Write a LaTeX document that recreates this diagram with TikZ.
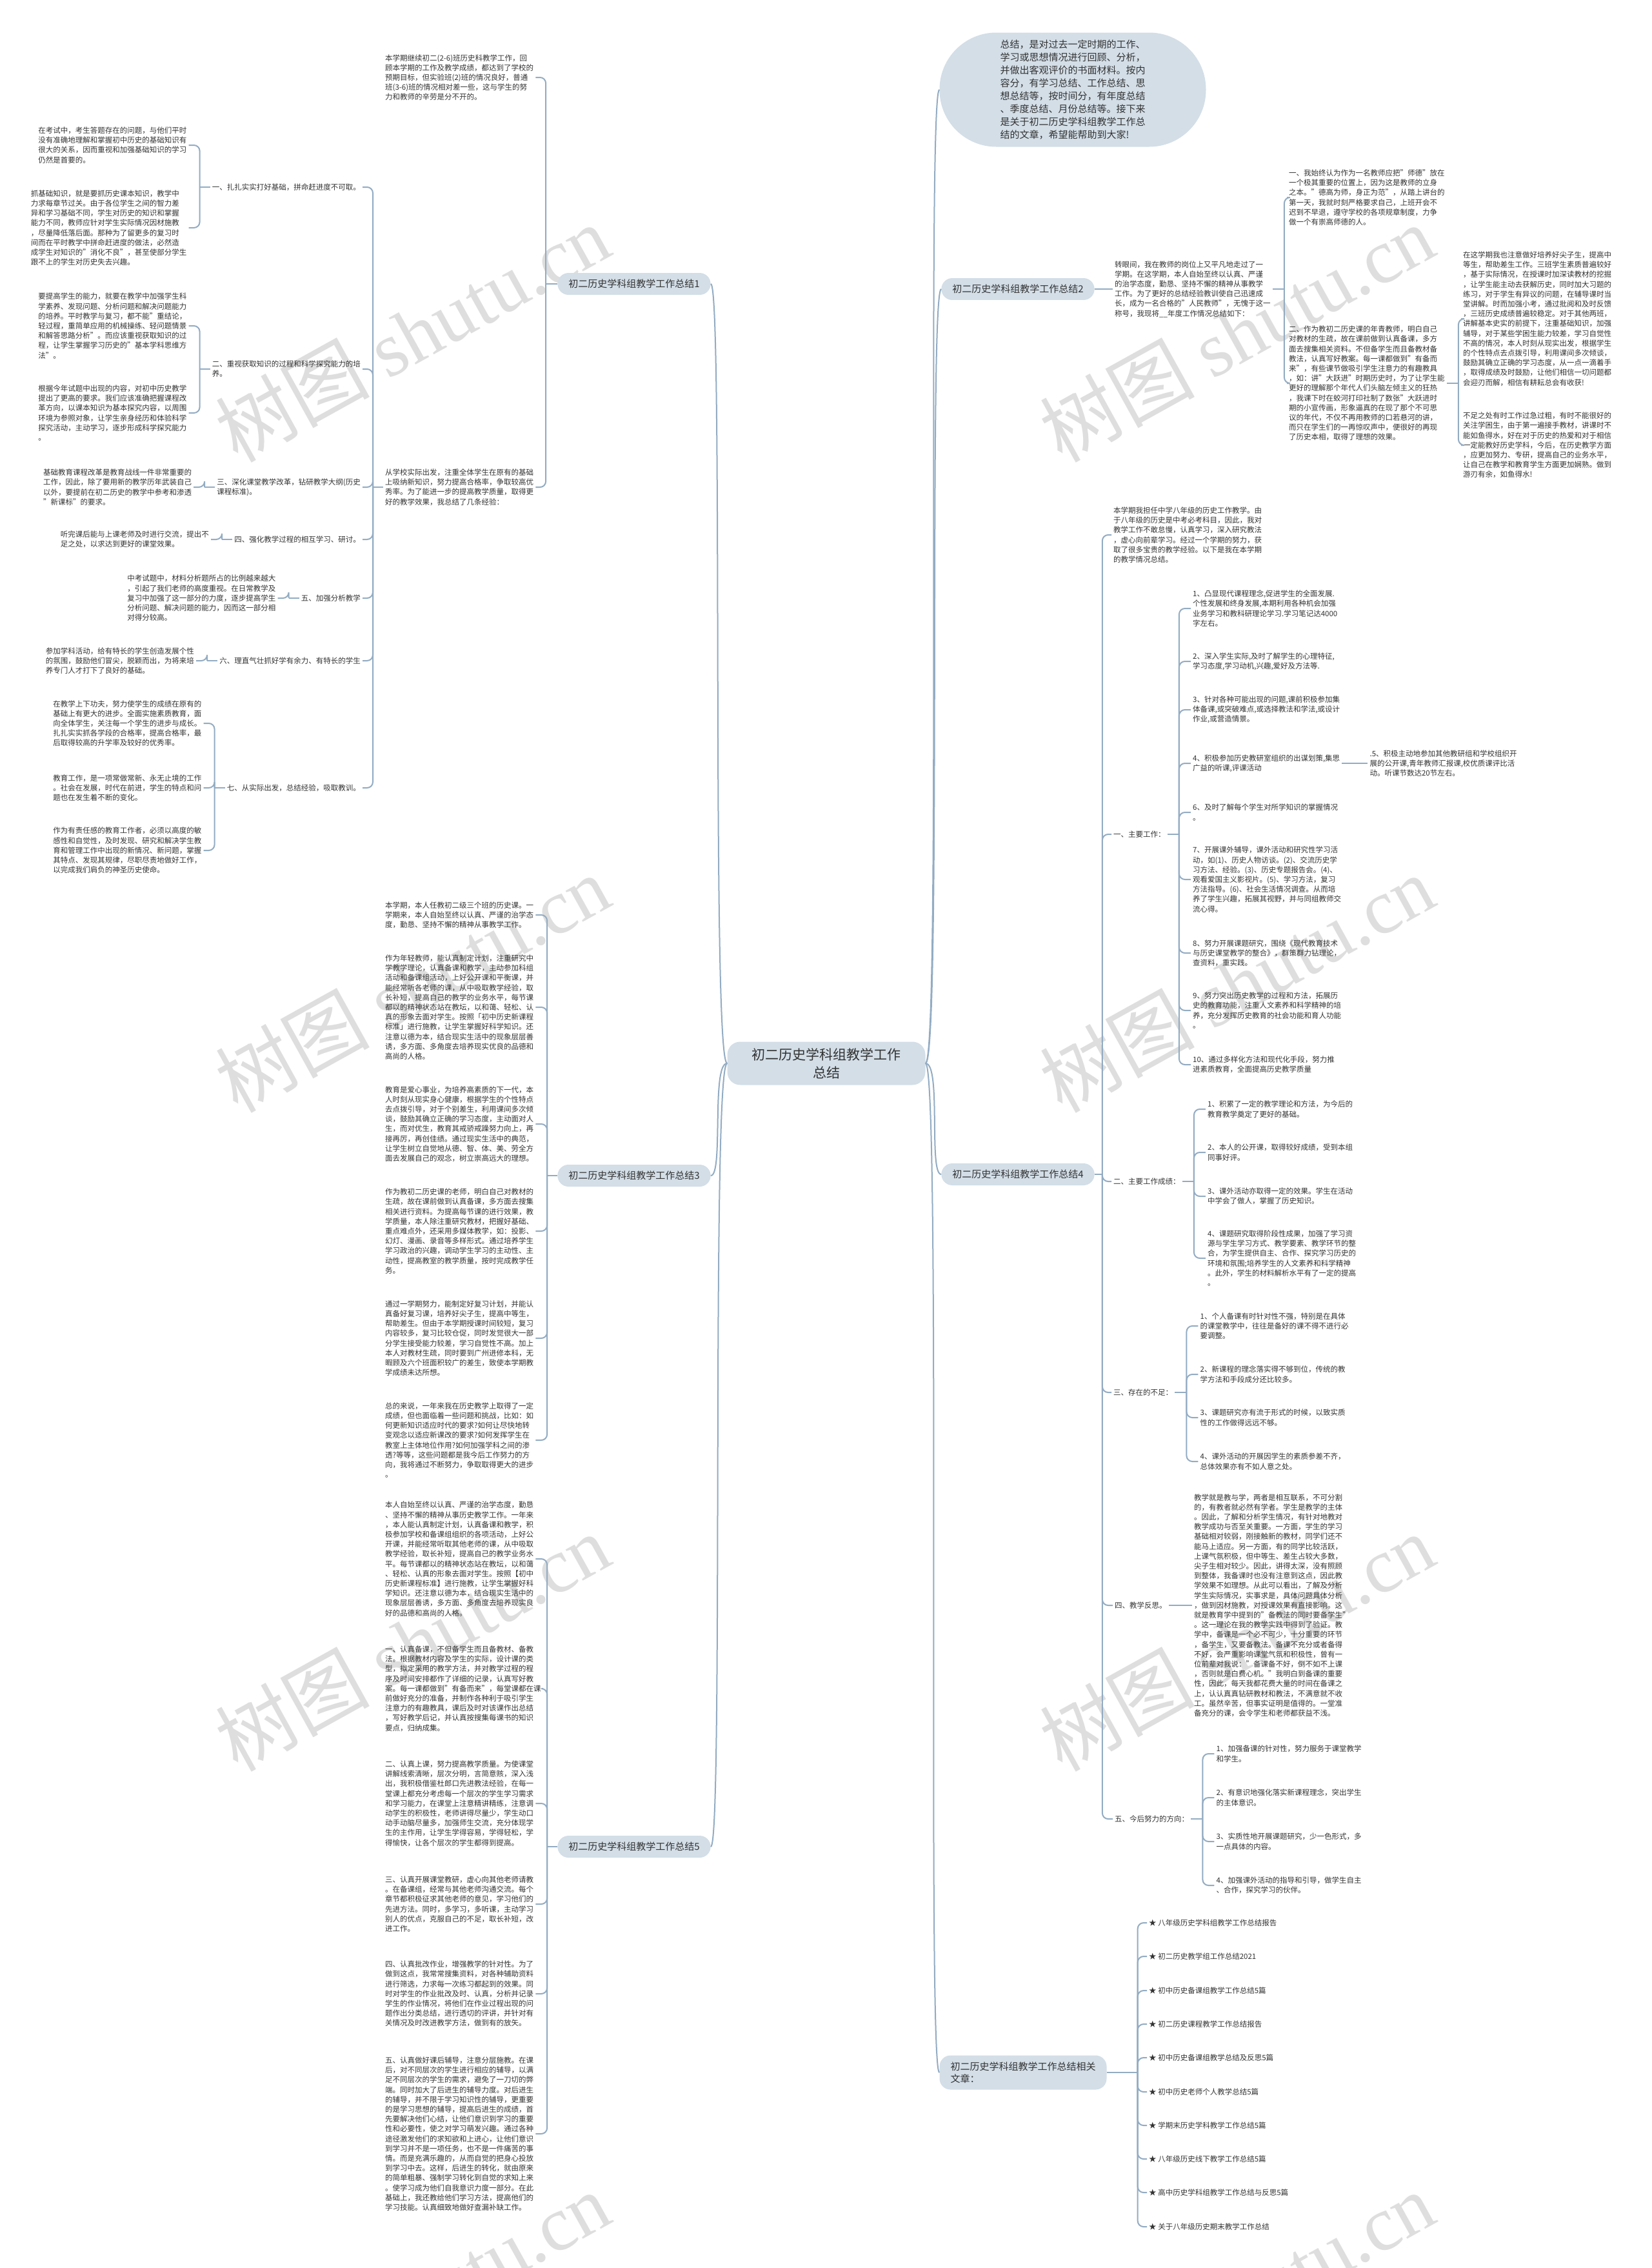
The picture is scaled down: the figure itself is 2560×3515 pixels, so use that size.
\documentclass[tikz,border=0pt]{standalone}
\usepackage{fontspec}
\setmainfont{Noto Sans CJK SC}
\newfontfamily\wmlatin{Liberation Serif}
\usetikzlibrary{calc}
\definecolor{lc}{HTML}{93ACC3}
\definecolor{nf}{HTML}{D3DEE7}
\definecolor{tc}{HTML}{333333}
\definecolor{wmc}{HTML}{DEDEDE}
\newcommand{\grpR}[3]{\draw[conn] (#1.east) -- ++(#2,0) coordinate (#1-j); \foreach \c in {#3} {\draw[br] (#1-j) |- (\c.west);}}
\newcommand{\grpL}[3]{\draw[conn] (#1.west) -- ++(-#2,0) coordinate (#1-j); \foreach \c in {#3} {\draw[br] (#1-j) |- (\c.east);}}
\begin{document}
\begin{tikzpicture}[x=1pt,y=-1pt,
 conn/.style={draw=lc,line width=2pt},
 br/.style={draw=lc,line width=2pt,rounded corners=9pt},
 leaf/.style={inner xsep=3pt,inner ysep=0pt,align=left,text=tc,font=\fontsize{11.5}{15.2}\selectfont},
 topic/.style={fill=nf,rounded corners=17pt,inner xsep=17pt,inner ysep=10pt,text=tc,font=\fontsize{15}{19}\selectfont},
 wm/.style={text=wmc,font=\fontsize{120}{120}\selectfont,rotate=29},
]
\fill[white] (0,0) rectangle (2560,3515);
\useasboundingbox (0,0) rectangle (2560,3515);
% watermarks
\foreach \wx in {639,1917} {\foreach \wy in {516,1524,2545,3565} {\node[wm] at (\wx,\wy) {树图 {\wmlatin shutu.cn}};}}

% central
\node[fill=nf,rounded corners=20pt,minimum width=307pt,minimum height=67pt,align=center,text=tc,font=\fontsize{21}{28}\selectfont] (c) at (1281,1648) {初二历史学科组教学工作\\总结};

% intro bubble
\node[fill=nf,rounded corners=88pt,minimum width=413pt,minimum height=177pt,align=left,text=tc,font=\fontsize{15}{20}\selectfont] (bub) at (1663,139) {总结，是对过去一定时期的工作、\\学习或思想情况进行回顾、分析，\\并做出客观评价的书面材料。按内\\容分，有学习总结、工作总结、思\\想总结等，按时间分，有年度总结\\、季度总结、月份总结等。接下来\\是关于初二历史学科组教学工作总\\结的文章，希望能帮助到大家!};

% level 1 topics
\node[topic] (n1) at (983,440) {初二历史学科组教学工作总结1};
\node[topic] (n3) at (983,1822) {初二历史学科组教学工作总结3};
\node[topic] (n5) at (983,2862) {初二历史学科组教学工作总结5};
\node[topic] (n2) at (1578,448) {初二历史学科组教学工作总结2};
\node[topic] (n4) at (1578,1820) {初二历史学科组教学工作总结4};
\node[topic,align=left] (nr) at (1586,3212) {初二历史学科组教学工作总结相关\\文章：};

% central connectors
\draw[conn] (c.east) .. controls +(25,0) and +(-20,0) .. (bub.west);
\draw[conn] (c.east) .. controls +(25,0) and +(-20,0) .. (n2.west);
\draw[conn] (c.east) .. controls +(25,0) and +(-20,0) .. (n4.west);
\draw[conn] (c.east) .. controls +(25,0) and +(-20,0) .. (nr.west);
\draw[conn] (c.west) .. controls +(-25,0) and +(20,0) .. (n1.east);
\draw[conn] (c.west) .. controls +(-25,0) and +(20,0) .. (n3.east);
\draw[conn] (c.west) .. controls +(-25,0) and +(20,0) .. (n5.east);

% ===== branch 1 =====
\node[leaf,anchor=west] (t1a) at (594,120) {本学期继续初二(2-6)班历史科教学工作，回\\顾本学期的工作及教学成绩，都达到了学校的\\预期目标，但实验班(2)班的情况良好，普通\\班(3-6)班的情况相对差一些，这与学生的努\\力和教师的辛劳是分不开的。};
\node[leaf,anchor=west] (t1b) at (594,755) {从学校实际出发，注重全体学生在原有的基础\\上吸纳新知识，努力提高合格率，争取较高优\\秀率。为了能进一步的提高教学质量，取得更\\好的教学效果，我总结了几条经验：};
\grpL{n1}{18}{t1a,t1b}

\node[leaf,anchor=east] (l1) at (562,290) {一、扎扎实实打好基础，拼命赶进度不可取。};
\node[leaf,anchor=east] (l2) at (562,572) {二、重视获取知识的过程和科学探究能力的培\\养。};
\node[leaf,anchor=east] (l3) at (562,755) {三、深化课堂教学改革，钻研教学大纲(历史\\课程标准)。};
\node[leaf,anchor=east] (l4) at (562,836) {四、强化教学过程的相互学习、研讨。};
\node[leaf,anchor=east] (l5) at (562,927) {五、加强分析教学};
\node[leaf,anchor=east] (l6) at (562,1024) {六、理直气壮抓好学有余力、有特长的学生};
\node[leaf,anchor=east] (l7) at (562,1221) {七、从实际出发，总结经验，吸取教训。};
\grpL{t1b}{16}{l1,l2,l3,l4,l5,l6,l7}

\node[leaf,anchor=east] (l1a) at ($(l1.west)+(-33,-65)$) {在考试中，考生答题存在的问题，与他们平时\\没有准确地理解和掌握初中历史的基础知识有\\很大的关系，因而重视和加强基础知识的学习\\仍然是首要的。};
\node[leaf,anchor=east] (l1b) at ($(l1.west)+(-33,63)$) {抓基础知识，就是要抓历史课本知识，教学中\\力求每章节过关。由于各位学生之间的智力差\\异和学习基础不同，学生对历史的知识和掌握\\能力不同，教师应针对学生实际情况因材施教\\，尽量降低落后面。那种为了留更多的复习时\\间而在平时教学中拼命赶进度的做法，必然造\\成学生对知识的"消化不良"，甚至使部分学生\\跟不上的学生对历史失去兴趣。};
\grpL{l1}{16}{l1a,l1b}
\node[leaf,anchor=east] (l2a) at ($(l2.west)+(-33,-67)$) {要提高学生的能力，就要在教学中加强学生科\\学素养、发现问题、分析问题和解决问题能力\\的培养。平时教学与复习，都不能"重结论，\\轻过程，重简单应用的机械操练、轻问题情景\\和解答思路分析"。而应该重视获取知识的过\\程，让学生掌握学习历史的"基本学科思维方\\法"。};
\node[leaf,anchor=east] (l2b) at ($(l2.west)+(-33,68)$) {根据今年试题中出现的内容，对初中历史教学\\提出了更高的要求。我们应该准确把握课程改\\革方向，以课本知识为基本探究内容，以周围\\环境为参照对象，让学生亲身经历和体验科学\\探究活动，主动学习，逐步形成科学探究能力\\。};
\grpL{l2}{16}{l2a,l2b}
\node[leaf,anchor=east] (l3a) at ($(l3.west)+(-33,0)$) {基础教育课程改革是教育战线一件非常重要的\\工作，因此，除了要用新的教学历年武装自己\\以外，要提前在初二历史的教学中参考和渗透\\"新课标"的要求。};
\grpL{l3}{16}{l3a}
\node[leaf,anchor=east] (l4a) at ($(l4.west)+(-33,0)$) {听完课后能与上课老师及时进行交流，提出不\\足之处，以求达到更好的课堂效果。};
\grpL{l4}{16}{l4a}
\node[leaf,anchor=east] (l5a) at ($(l5.west)+(-33,0)$) {中考试题中，材料分析题所占的比例越来越大\\，引起了我们老师的高度重视。在日常教学及\\复习中加强了这一部分的力度，逐步提高学生\\分析问题、解决问题的能力，因而这一部分相\\对得分较高。};
\grpL{l5}{16}{l5a}
\node[leaf,anchor=east] (l6a) at ($(l6.west)+(-33,0)$) {参加学科活动，给有特长的学生创造发展个性\\的氛围，鼓励他们冒尖，脱颖而出，为将来培\\养专门人才打下了良好的基础。};
\grpL{l6}{16}{l6a}
\node[leaf,anchor=east] (l7a) at ($(l7.west)+(-33,-100)$) {在教学上下功夫，努力使学生的成绩在原有的\\基础上有更大的进步。全面实施素质教育，面\\向全体学生，关注每一个学生的进步与成长。\\扎扎实实抓各学段的合格率，提高合格率，最\\后取得较高的升学率及较好的优秀率。};
\node[leaf,anchor=east] (l7b) at ($(l7.west)+(-33,0)$) {教育工作，是一项常做常新、永无止境的工作\\。社会在发展，时代在前进，学生的特点和问\\题也在发生着不断的变化。};
\node[leaf,anchor=east] (l7c) at ($(l7.west)+(-33,97)$) {作为有责任感的教育工作者，必须以高度的敏\\感性和自觉性，及时发现、研究和解决学生教\\育和管理工作中出现的新情况、新问题，掌握\\其特点、发现其规律，尽职尽责地做好工作，\\以完成我们肩负的神圣历史使命。};
\grpL{l7}{16}{l7a,l7b,l7c}

% ===== branch 3 =====
\node[leaf,anchor=west] (s3a) at (594,1418) {本学期，本人任教初二级三个班的历史课。一\\学期来，本人自始至终以认真、严谨的治学态\\度，勤恳、坚持不懈的精神从事教学工作。};
\node[leaf,anchor=west] (s3b) at (594,1561) {作为年轻教师，能认真制定计划，注重研究中\\学教学理论，认真备课和教学，主动参加科组\\活动和备课组活动，上好公开课和平衡课，并\\能经常听各老师的课，从中吸取教学经验，取\\长补短，提高自己的教学的业务水平，每节课\\都以的精神状态站在教坛，以和蔼、轻松、认\\真的形象去面对学生。按照「初中历史新课程\\标准」进行施教，让学生掌握好科学知识。还\\注意以德为本，结合现实生活中的现象层层善\\诱，多方面、多角度去培养现实优良的品德和\\高尚的人格。};
\node[leaf,anchor=west] (s3c) at (594,1742) {教育是爱心事业，为培养高素质的下一代，本\\人时刻从现实身心健康，根据学生的个性特点\\去点拨引导，对于个别差生，利用课间多次倾\\谈，鼓励其确立正确的学习态度，主动面对人\\生，而对优生，教育其戒骄戒躁努力向上，再\\接再厉，再创佳绩。通过现实生活中的典范，\\让学生树立自觉地从德、智、体、美、劳全方\\面去发展自己的观念，树立崇高远大的理想。};
\node[leaf,anchor=west] (s3d) at (594,1908) {作为教初二历史课的老师，明白自己对教材的\\生疏，故在课前做到认真备课，多方面去搜集\\相关进行资料。为提高每节课的进行效果，教\\学质量，本人除注重研究教材，把握好基础、\\重点难点外，还采用多媒体教学，如：投影、\\幻灯、漫画、录音等多样形式。通过培养学生\\学习政治的兴趣，调动学生学习的主动性、主\\动性，提高教室的教学质量，按时完成教学任\\务。};
\node[leaf,anchor=west] (s3e) at (594,2074) {通过一学期努力，能制定好复习计划，并能认\\真备好复习课，培养好尖子生，提高中等生，\\帮助差生。但由于本学期授课时间较短，复习\\内容较多，复习比较仓促，同时发觉很大一部\\分学生接受能力较差，学习自觉性不高。加上\\本人对教材生疏，同时要到广州进修本科，无\\暇顾及六个班面积较广的差生，致使本学期教\\学成绩未达所想。};
\node[leaf,anchor=west] (s3f) at (594,2232) {总的来说，一年来我在历史教学上取得了一定\\成绩，但也面临着一些问题和挑战，比如：如\\何更新知识适应时代的要求?如何让尽快地转\\变观念以适应新课改的要求?如何发挥学生在\\教室上主体地位作用?如何加强学科之间的渗\\透?等等，这些问题都是我今后工作努力的方\\向，我将通过不断努力，争取取得更大的进步\\。};
\grpL{n3}{16}{s3a,s3b,s3c,s3d,s3e,s3f}

% ===== branch 5 =====
\node[leaf,anchor=west] (s5a) at (594,2416) {本人自始至终以认真、严谨的治学态度，勤恳\\、坚持不懈的精神从事历史教学工作。一年来\\，本人能认真制定计划，认真备课和教学，积\\极参加学校和备课组组织的各项活动，上好公\\开课，并能经常听取其他老师的课，从中吸取\\教学经验，取长补短，提高自己的教学业务水\\平。每节课都以的精神状态站在教坛，以和蔼\\、轻松、认真的形象去面对学生。按照【初中\\历史新课程标准】进行施教，让学生掌握好科\\学知识。还注意以德为本，结合现实生活中的\\现象层层善诱，多方面、多角度去培养现实良\\好的品德和高尚的人格。};
\node[leaf,anchor=west] (s5b) at (594,2617) {一、认真备课，不但备学生而且备教材、备教\\法。根据教材内容及学生的实际，设计课的类\\型，拟定采用的教学方法，并对教学过程的程\\序及时间安排都作了详细的记录，认真写好教\\案。每一课都做到"有备而来"，每堂课都在课\\前做好充分的准备，并制作各种利于吸引学生\\注意力的有趣教具，课后及时对该课作出总结\\，写好教学后记，并认真按搜集每课书的知识\\要点，归纳成集。};
\node[leaf,anchor=west] (s5c) at (594,2795) {二、认真上课，努力提高教学质量。为使课堂\\讲解线索清晰，层次分明，言简意赅，深入浅\\出，我积极借鉴杜郎口先进教法经验，在每一\\堂课上都充分考虑每一个层次的学生学习需求\\和学习能力，在课堂上注意精讲精练，注意调\\动学生的积极性，老师讲得尽量少，学生动口\\动手动脑尽量多，加强师生交流，充分体现学\\生的主作用，让学生学得容易，学得轻松，学\\得愉快，让各个层次的学生都得到提高。};
\node[leaf,anchor=west] (s5d) at (594,2951) {三、认真开展课堂教研，虚心向其他老师请教\\。在备课组，经常与其他老师沟通交流。每个\\章节都积极征求其他老师的意见，学习他们的\\先进方法。同时，多学习，多听课，主动学习\\别人的优点，克服自己的不足，取长补短，改\\进工作。};
\node[leaf,anchor=west] (s5e) at (594,3090) {四、认真批改作业，增强教学的针对性。为了\\做到这点，我常常搜集资料，对各种辅助资料\\进行筛选，力求每一次练习都起到的效果。同\\时对学生的作业批改及时、认真，分析并记录\\学生的作业情况，将他们在作业过程出现的问\\题作出分类总结，进行透切的评讲，并针对有\\关情况及时改进教学方法，做到有的放矢。};
\node[leaf,anchor=west] (s5f) at (594,3307) {五、认真做好课后辅导，注意分层施教。在课\\后，对不同层次的学生进行相应的辅导，以满\\足不同层次的学生的需求，避免了一刀切的弊\\端。同时加大了后进生的辅导力度。对后进生\\的辅导，并不限于学习知识性的辅导，更重要\\的是学习思想的辅导，提高后进生的成绩，首\\先要解决他们心结，让他们意识到学习的重要\\性和必要性，使之对学习萌发兴趣。通过各种\\途径激发他们的求知欲和上进心，让他们意识\\到学习并不是一项任务，也不是一件痛苦的事\\情。而是充满乐趣的，从而自觉的把身心投放\\到学习中去。这样，后进生的转化，就由原来\\的简单粗暴、强制学习转化到自觉的求知上来\\。使学习成为他们自我意识力度一部分。在此\\基础上，我还教给他们学习方法，提高他们的\\学习技能。认真细致地做好查漏补缺工作。};
\grpL{n5}{16}{s5a,s5b,s5c,s5d,s5e,s5f}

% ===== branch 2 =====
\node[leaf,anchor=west] (d2) at (1725,448) {转眼间，我在教师的岗位上又平凡地走过了一\\学期。在这学期，本人自始至终以认真、严谨\\的治学态度，勤恳、坚持不懈的精神从事教学\\工作。为了更好的总结经验教训使自己迅速成\\长，成为一名合格的"人民教师"，无愧于这一\\称号，我现将\_\_年度工作情况总结如下：};
\draw[conn] (n2.east) -- (d2.west);
\node[leaf,anchor=west] (a2) at (1995,306) {一、我始终认为作为一名教师应把"师德"放在\\一个极其重要的位置上，因为这是教师的立身\\之本。"德高为师，身正为范"，从踏上讲台的\\第一天，我就时刻严格要求自己，上班开会不\\迟到不早退，遵守学校的各项规章制度，力争\\做一个有崇高师德的人。};
\node[leaf,anchor=west] (b2) at (1995,594) {二、作为教初二历史课的年青教师，明白自己\\对教材的生疏，故在课前做到认真备课，多方\\面去搜集相关资料。不但备学生而且备教材备\\教法，认真写好教案。每一课都做到"有备而\\来"，有些课节做吸引学生注意力的有趣教具\\，如：讲"大跃进"时期历史时，为了让学生能\\更好的理解那个年代人们头脑左倾主义的狂热\\，我课下时在蛟河打印社制了数张"大跃进时\\期的小宣传画，形象逼真的在现了那个不可思\\议的年代，不仅不再用教师的口若悬河的讲，\\而只在学生们的一再惊叹声中，便很好的再现\\了历史本相，取得了理想的效果。};
\grpR{d2}{18}{a2,b2}
\node[leaf,anchor=west] (c2) at (2265,494) {在这学期我也注意做好培养好尖子生，提高中\\等生，帮助差生工作。三班学生素质普遍较好\\，基于实际情况，在授课时加深读教材的挖掘\\，让学生能主动去获解历史，同时加大习题的\\练习，对于学生有异议的问题，在辅导课时当\\堂讲解。时而加强小考，通过批阅和及时反馈\\，三班历史成绩普遍较稳定。对于其他两班，\\讲解基本史实的前提下，注重基础知识，加强\\辅导，对于某些学困生能力较差，学习自觉性\\不高的情况，本人时刻从现实出发，根据学生\\的个性特点去点拨引导，利用课间多次倾谈，\\鼓励其确立正确的学习态度，从一点一滴着手\\，取得成绩及时鼓励，让他们相信一切问题都\\会迎刃而解，相信有耕耘总会有收获!};
\node[leaf,anchor=west] (e2) at (2265,690) {不足之处有时工作过急过粗，有时不能很好的\\关注学困生，由于第一遍接手教材，讲课时不\\能如鱼得水，好在对于历史的热爱和对于相信\\一定能教好历史学科，今后，在历史教学方面\\，应更加努力、专研，提高自己的业务水平，\\让自己在教学和教育学生方面更加娴熟。做到\\游刃有余，如鱼得水!};
\grpR{b2}{18}{c2,e2}

% ===== branch 4 =====
\node[leaf,anchor=west] (i4) at (1723,829) {本学期我担任中学八年级的历史工作教学。由\\于八年级的历史是中考必考科目，因此，我对\\教学工作不敢怠慢，认真学习，深入研究教法\\，虚心向前辈学习。经过一个学期的努力，获\\取了很多宝贵的教学经验。以下是我在本学期\\的教学情况总结。};
\node[leaf,anchor=west] (m1) at (1723,1293) {一、主要工作：};
\node[leaf,anchor=west] (m2) at (1723,1831) {二、主要工作成绩：};
\node[leaf,anchor=west] (m3) at (1723,2158) {三、存在的不足：};
\node[leaf,anchor=west] (m4) at (1725,2488) {四、教学反思。};
\node[leaf,anchor=west] (m5) at (1725,2819) {五、今后努力的方向：};
\grpR{n4}{12}{i4,m1,m2,m3,m4,m5}

\node[leaf,anchor=west] (p1) at ($(m1.east)+(36,-350)$) {1、凸显现代课程理念,促进学生的全面发展.\\个性发展和终身发展,本期利用各种机会加强\\业务学习和教科研理论学习.学习笔记达4000\\字左右。};
\node[leaf,anchor=west] (p2) at ($(m1.east)+(36,-268)$) {2、深入学生实际,及时了解学生的心理特征,\\学习态度,学习动机,兴趣,爱好及方法等.};
\node[leaf,anchor=west] (p3) at ($(m1.east)+(36,-193)$) {3、针对各种可能出现的问题,课前积极参加集\\体备课,或突破难点,或选择教法和学法,或设计\\作业,或营造情景。};
\node[leaf,anchor=west] (p4) at ($(m1.east)+(36,-110)$) {4、积极参加历史教研室组织的出谋划策,集思\\广益的听课,评课活动};
\node[leaf,anchor=west] (p6) at ($(m1.east)+(36,-34)$) {6、及时了解每个学生对所学知识的掌握情况\\。};
\node[leaf,anchor=west] (p7) at ($(m1.east)+(36,70)$) {7、开展课外辅导，课外活动和研究性学习活\\动，如(1)、历史人物访谈。(2)、交流历史学\\习方法、经验。(3)、历史专题报告会。(4)、\\观看爱国主义影视片。(5)、学习方法，复习\\方法指导。(6)、社会生活情况调查。从而培\\养了学生兴趣，拓展其视野，并与同组教师交\\流心得。};
\node[leaf,anchor=west] (p8) at ($(m1.east)+(36,184)$) {8、努力开展课题研究，围绕《现代教育技术\\与历史课堂教学的整合》，群策群力钻理论，\\查资料，重实践。};
\node[leaf,anchor=west] (p9) at ($(m1.east)+(36,273)$) {9、努力突出历史教学的过程和方法，拓展历\\史的教育功能，注重人文素养和科学精神的培\\养，充分发挥历史教育的社会功能和育人功能\\。};
\node[leaf,anchor=west] (p10) at ($(m1.east)+(36,357)$) {10、通过多样化方法和现代化手段，努力推\\进素质教育，全面提高历史教学质量};
\grpR{m1}{18}{p1,p2,p3,p4,p6,p7,p8,p9,p10}
\node[leaf,anchor=west] (p5) at ($(p4.east)+(40,0)$) {.5、积极主动地参加其他教研组和学校组织开\\展的公开课,青年教师汇报课,校优质课评比活\\动。听课节数达20节左右。};
\draw[conn] (p4.east) -- (p5.west);

\node[leaf,anchor=west] (q1) at ($(m2.east)+(36,-112)$) {1、积累了一定的教学理论和方法，为今后的\\教育教学奠定了更好的基础。};
\node[leaf,anchor=west] (q2) at ($(m2.east)+(36,-45)$) {2、本人的公开课，取得较好成绩，受到本组\\同事好评。};
\node[leaf,anchor=west] (q3) at ($(m2.east)+(36,23)$) {3、课外活动亦取得一定的效果。学生在活动\\中学会了做人，掌握了历史知识。};
\node[leaf,anchor=west] (q4) at ($(m2.east)+(36,119)$) {4、课题研究取得阶段性成果，加强了学习资\\源与学生学习方式、教学要素、教学环节的整\\合，为学生提供自主、合作、探究学习历史的\\环境和氛围;培养学生的人文素养和科学精神\\。此外，学生的材料解析水平有了一定的提高\\。};
\grpR{m2}{18}{q1,q2,q3,q4}

\node[leaf,anchor=west] (r1) at ($(m3.east)+(36,-103)$) {1、个人备课有时针对性不强，特别是在具体\\的课堂教学中，往往是备好的课不得不进行必\\要调整。};
\node[leaf,anchor=west] (r2) at ($(m3.east)+(36,-28)$) {2、新课程的理念落实得不够到位，传统的教\\学方法和手段成分还比较多。};
\node[leaf,anchor=west] (r3) at ($(m3.east)+(36,39)$) {3、课题研究亦有流于形式的时候，以致实质\\性的工作做得远远不够。};
\node[leaf,anchor=west] (r4) at ($(m3.east)+(36,107)$) {4、课外活动的开展因学生的素质参差不齐，\\总体效果亦有不如人意之处。};
\grpR{m3}{18}{r1,r2,r3,r4}

\node[leaf,anchor=west] (f1) at ($(m4.east)+(36,0)$) {教学就是教与学，两者是相互联系，不可分割\\的，有教者就必然有学者。学生是教学的主体\\。因此，了解和分析学生情况，有针对地教对\\教学成功与否至关重要。一方面，学生的学习\\基础相对较弱，刚接触新的教材，同学们还不\\能马上适应。另一方面，有的同学比较活跃，\\上课气氛积极，但中等生、差生占较大多数，\\尖子生相对较少。因此，讲得太深，没有照顾\\到整体，我备课时也没有注意到这点，因此教\\学效果不如理想。从此可以看出，了解及分析\\学生实际情况，实事求是，具体问题具体分析\\，做到因材施教，对授课效果有直接影响。这\\就是教育学中提到的"备教法的同时要备学生"\\。这一理论在我的教学实践中得到了验证。教\\学中，备课是一个必不可少，十分重要的环节\\，备学生，又要备教法。备课不充分或者备得\\不好，会严重影响课堂气氛和积极性，曾有一\\位前辈对我说："备课备不好，倒不如不上课\\，否则就是白费心机。"我明白到备课的重要\\性，因此，每天我都花费大量的时间在备课之\\上，认认真真钻研教材和教法，不满意就不收\\工。虽然辛苦，但事实证明是值得的。一堂准\\备充分的课，会令学生和老师都获益不浅。};
\draw[conn] (m4.east) -- (f1.west);

\node[leaf,anchor=west] (g1) at ($(m5.east)+(36,-101)$) {1、加强备课的针对性，努力服务于课堂教学\\和学生。};
\node[leaf,anchor=west] (g2) at ($(m5.east)+(36,-33)$) {2、有意识地强化落实新课程理念，突出学生\\的主体意识。};
\node[leaf,anchor=west] (g3) at ($(m5.east)+(36,35)$) {3、实质性地开展课题研究，少一色形式，多\\一点具体的内容。};
\node[leaf,anchor=west] (g4) at ($(m5.east)+(36,103)$) {4、加强课外活动的指导和引导，做学生自主\\、合作，探究学习的伙伴。};
\grpR{m5}{18}{g1,g2,g3,g4}

% ===== related =====
\node[leaf,anchor=west] (k1) at (1778,2980) {★ 八年级历史学科组教学工作总结报告};
\node[leaf,anchor=west] (k2) at (1778,3032) {★ 初二历史教学组工作总结2021};
\node[leaf,anchor=west] (k3) at (1778,3085) {★ 初中历史备课组教学工作总结5篇};
\node[leaf,anchor=west] (k4) at (1778,3137) {★ 初二历史课程教学工作总结报告};
\node[leaf,anchor=west] (k5) at (1778,3189) {★ 初中历史备课组教学总结及反思5篇};
\node[leaf,anchor=west] (k6) at (1778,3242) {★ 初中历史老师个人教学总结5篇};
\node[leaf,anchor=west] (k7) at (1778,3294) {★ 学期末历史学科教学工作总结5篇};
\node[leaf,anchor=west] (k8) at (1778,3346) {★ 八年级历史线下教学工作总结5篇};
\node[leaf,anchor=west] (k9) at (1778,3398) {★ 高中历史学科组教学工作总结与反思5篇};
\node[leaf,anchor=west] (k10) at (1778,3451) {★ 关于八年级历史期末教学工作总结};
\grpR{nr}{48}{k1,k2,k3,k4,k5,k6,k7,k8,k9,k10}
\end{tikzpicture}
\end{document}
